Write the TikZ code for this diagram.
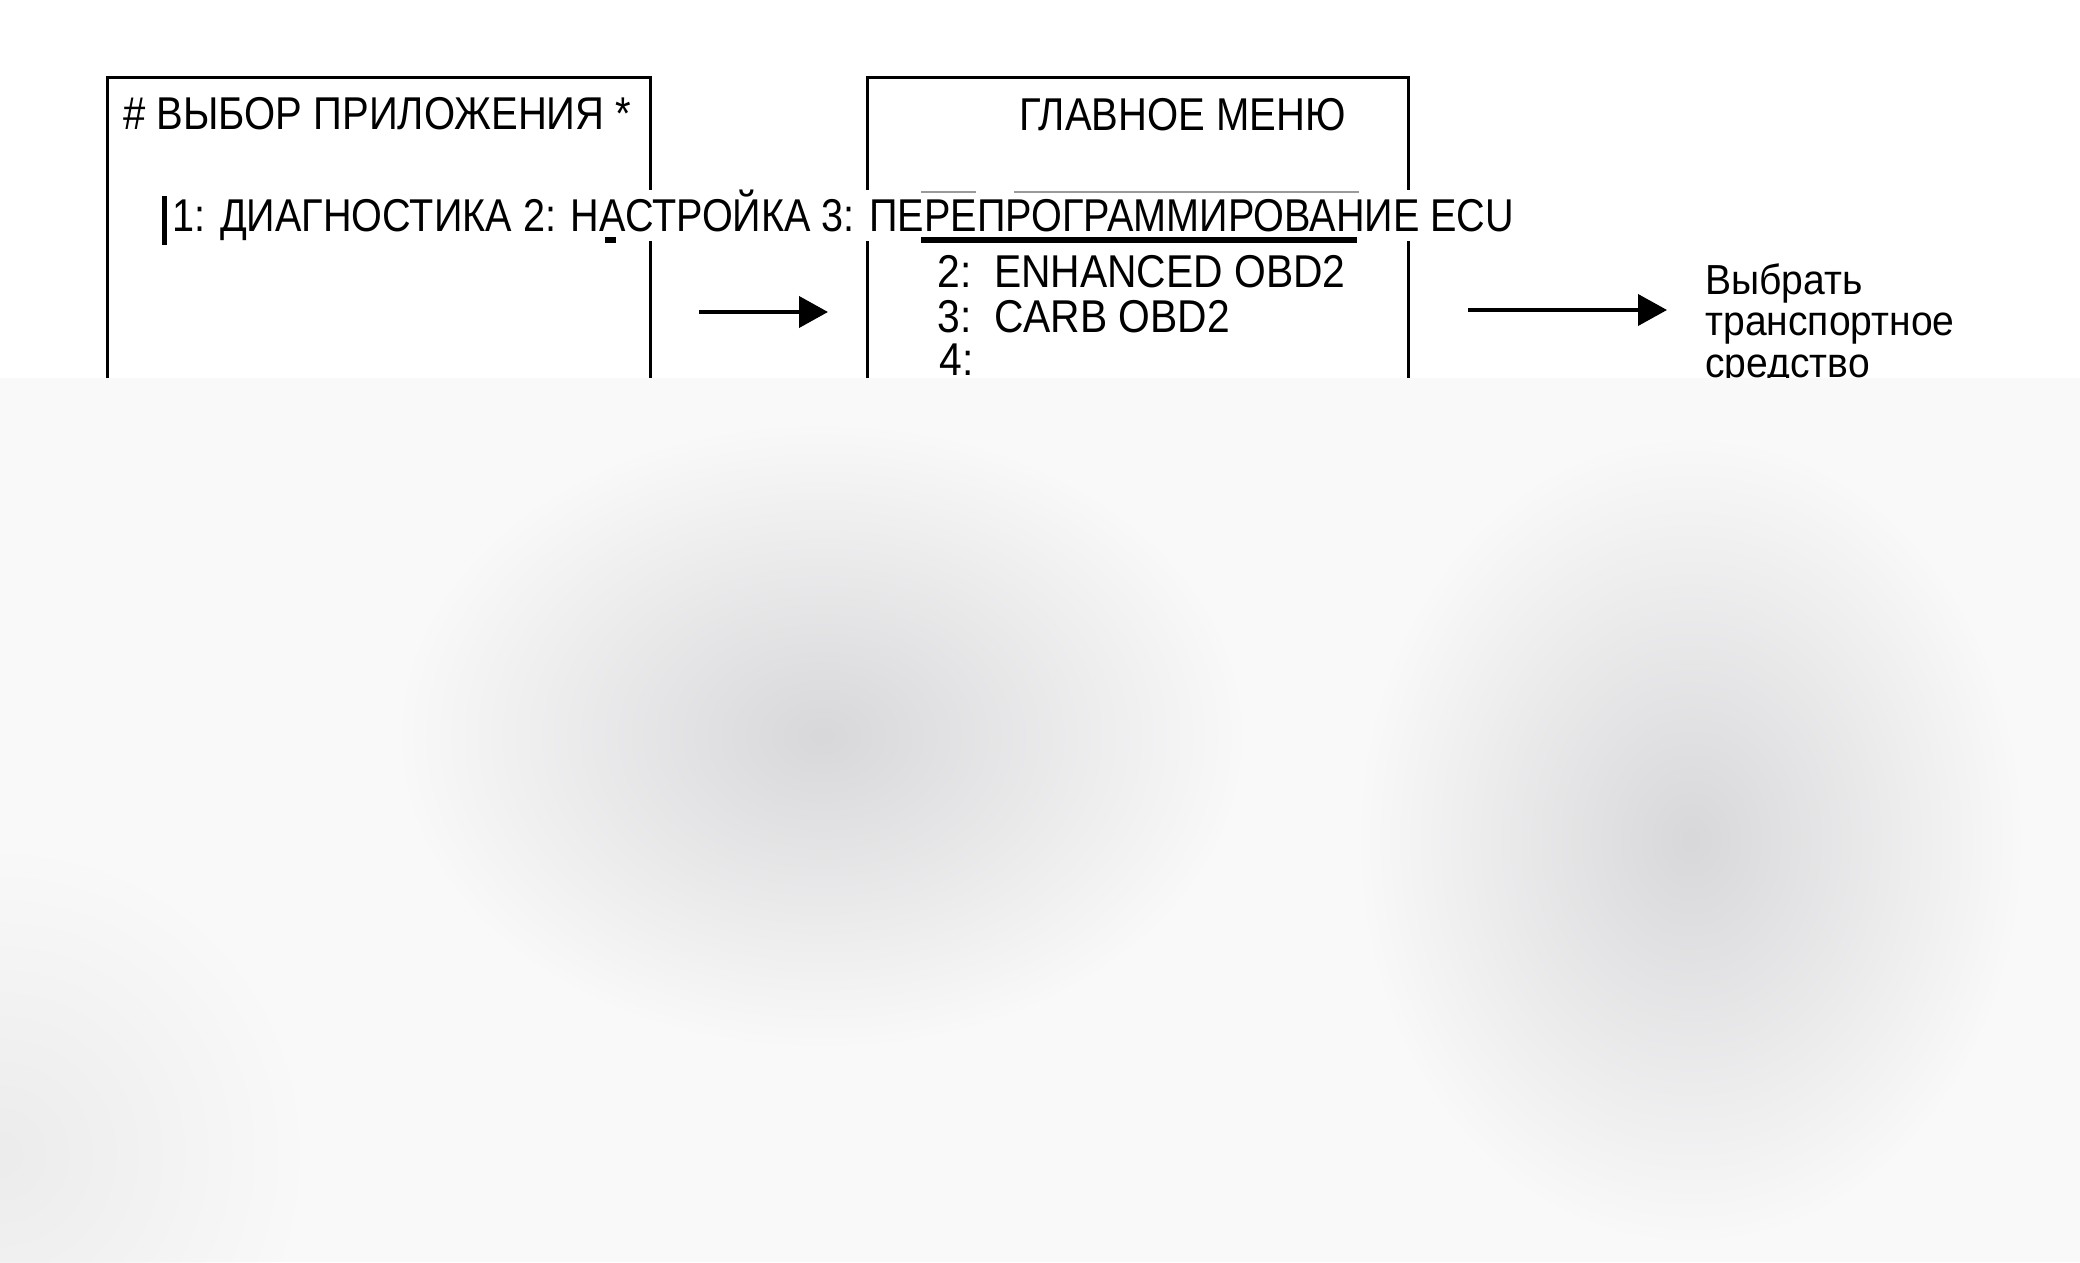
\documentclass[tikz,border=0pt]{standalone}
\usepackage{fontspec}
\setmainfont{Liberation Sans}
\newfontfamily\screenfont[FakeStretch=0.87]{Liberation Sans}
\newfontfamily\listfont[FakeStretch=0.861]{Liberation Sans}
\newfontfamily\itemfont[FakeStretch=0.887]{Liberation Sans}
\newfontfamily\notefont[FakeStretch=0.93]{Liberation Sans}
\usepackage{tikz}
\usetikzlibrary{positioning,arrows.meta,fadings}
\definecolor{veil}{HTML}{F9F9FA}
\definecolor{smudge}{HTML}{D8D8DA}
\definecolor{faintline}{HTML}{9A9A9A}
\tikzfading[name=blobfade,inner color=transparent!0,outer color=transparent!100]

\begin{document}
\begin{tikzpicture}[x=0.5pt,y=-0.5pt,
  screen/.style={draw,line width=1.3pt,anchor=north west,inner sep=0pt,
    minimum width=271.5pt,minimum height=177pt},
  scrtext/.style={font=\screenfont\fontsize{23}{27}\selectfont,inner sep=0pt,anchor=base west},
  itemtext/.style={font=\itemfont\fontsize{23}{27}\selectfont,inner sep=0pt,anchor=base west},
  notetext/.style={font=\notefont\fontsize{21}{20.5}\selectfont,inner sep=0pt,anchor=base west,align=left},
  blob/.style={fill=smudge,path fading=blobfade},
  flow/.style={line width=2pt,-{Triangle[length=14.5pt,width=15.5pt]}}]
  \useasboundingbox (0,0) rectangle (2080,1262);
  \fill[white] (0,0) rectangle (2080,1262);

  % the two screens
  \node[screen] (appscreen) at (106,76) {};
  \node[screen,minimum width=270.5pt] (menuscreen) at (866,76) {};

  \node[scrtext] (apptitle) at (123,130) {\# ВЫБОР ПРИЛОЖЕНИЯ *};
  \node[scrtext,font=\listfont\fontsize{23}{27}\selectfont,fill=white] (applist) at (172,232)
    {1: ДИАГНОСТИКА 2: НАСТРОЙКА 3: ПЕРЕПРОГРАММИРОВАНИЕ ECU};
  \fill (162,196) rectangle (167,245); % cursor
  \fill (605,237) rectangle (616,243);

  \node[scrtext] (menutitle) at (1019,131) {ГЛАВНОЕ МЕНЮ};
  \draw[faintline,line width=0.6pt] (921,192) -- (976,192) (1014,192) -- (1359,192);
  \draw[line width=2.6pt] (921,240) -- (1357,240);
  \node[itemtext] (enhanced) at (937,288) {2:\ \ ENHANCED OBD2};
  \node[itemtext] (carb) at (937,333) {3:\ \ CARB OBD2};
  \node[itemtext] (empty) at (939,375) {4:};

  \node[notetext] (vehicle) at (1705,377) {Выбрать\\транспортное\\средство};

  % arrows
  \coordinate (first0) at (699,312);
  \coordinate (first1) at (828,312);
  \coordinate (second0) at (1468,310);
  \coordinate (second1) at (1667,310);
  \draw[flow] (first0) -- (first1);
  \draw[flow] (second0) -- (second1);

  % lower veil
  \begin{scope}
    \clip (0,378) rectangle (2080,1262);
    \fill[veil] (0,378) rectangle (2080,1262);
    \fill[blob] (822,736) ellipse [x radius=420, y radius=310];
    \fill[blob] (1691,840) ellipse [x radius=330, y radius=400];
    \fill[blob,fill=smudge!40!veil] (0,1154) ellipse [x radius=300, y radius=300];
  \end{scope}
\end{tikzpicture}
\end{document}
